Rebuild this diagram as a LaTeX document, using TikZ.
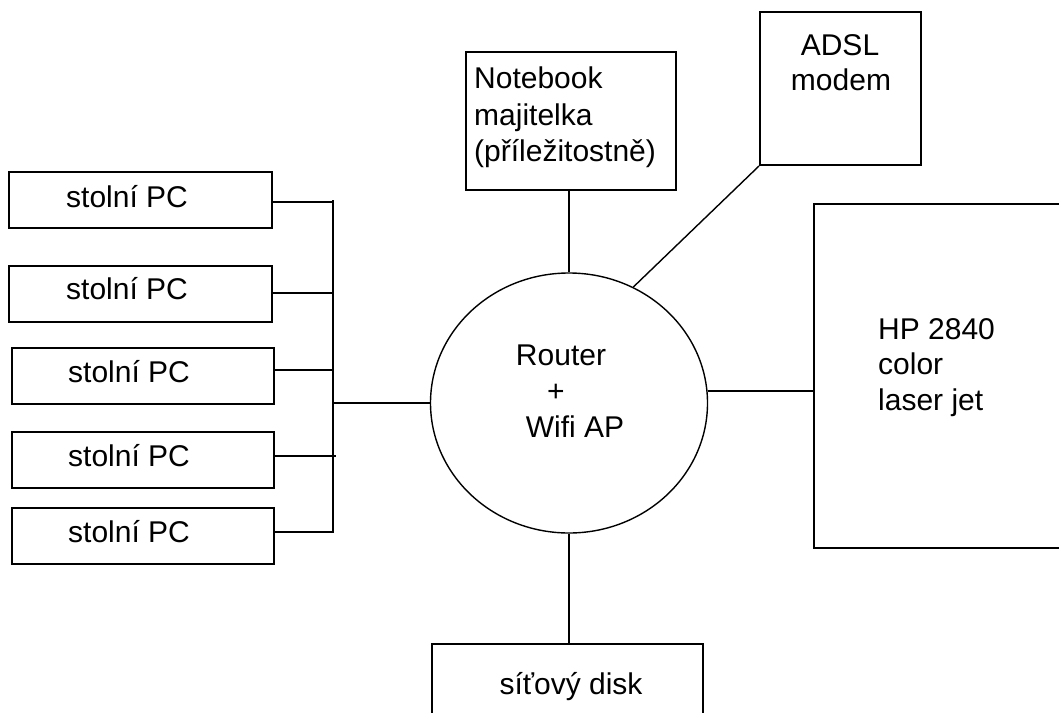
\documentclass[tikz,border=0pt]{standalone}
\usepackage{fontspec}
\setmainfont{Liberation Sans}
\usetikzlibrary{shapes.geometric}
\begin{document}
\begin{tikzpicture}[x=1pt,y=-1pt,
  box/.style={draw, line width=2pt, rectangle, inner sep=0pt},
  hub/.style={draw, line width=1.4pt, ellipse, inner sep=0pt, minimum width=277pt, minimum height=260pt},
  wire/.style={line width=2pt},
  thinwire/.style={line width=1.4pt},
  txt/.style={inner sep=0pt, font=\fontsize{30}{36}\selectfont}]
\clip (0,0) rectangle (1059,712);
% PC boxes
\node[box, minimum width=263pt, minimum height=56pt] (pc1) at (140.5,200) {};
\node[box, minimum width=263pt, minimum height=56pt] (pc2) at (140.5,294) {};
\node[box, minimum width=262pt, minimum height=56pt] (pc3) at (143,376) {};
\node[box, minimum width=262pt, minimum height=56pt] (pc4) at (143,460) {};
\node[box, minimum width=262pt, minimum height=56pt] (pc5) at (143,536) {};
\node[txt, anchor=base west] (t1) at (66,207) {stolní PC};
\node[txt, anchor=base west] (t2) at (66,299) {stolní PC};
\node[txt, anchor=base west] (t3) at (68,382) {stolní PC};
\node[txt, anchor=base west] (t4) at (68,466) {stolní PC};
\node[txt, anchor=base west] (t5) at (68,542) {stolní PC};
% bus
\coordinate (busT) at (333,200);
\coordinate (busB) at (333,533);
\draw[wire] (busT) -- (busB);
\draw[wire] ([yshift=-2pt]pc1.east) -- ([yshift=-2pt]pc1.east -| busT);
\draw[wire] ([yshift=1pt]pc2.east) -- ([yshift=1pt]pc2.east -| busT);
\draw[wire] ([yshift=6pt]pc3.east) -- ([yshift=6pt]pc3.east -| busT);
\draw[wire] ([yshift=4pt,xshift=-2pt]pc4.east) -- ([yshift=4pt,xshift=3pt]pc4.east -| busT);
\draw[wire] ([yshift=4pt]pc5.east) -- ([yshift=4pt]pc5.east -| busT);
% router
\node[hub] (router) at (569,403) {};
\node[txt, anchor=base] (r1) at (561,365) {Router};
\node[txt, anchor=base] (r2) at (556,401) {+};
\node[txt, anchor=base] (r3) at (575,437) {Wifi AP};
\draw[wire] (router.west -| busT) -- (router.west);
% notebook
\node[box, minimum width=210pt, minimum height=138pt] (nb) at (571,121) {};
\node[txt, anchor=base west] (n1) at (474,88) {Notebook};
\node[txt, anchor=base west] (n2) at (474,125) {majitelka};
\node[txt, anchor=base west] (n3) at (474,161) {(příležitostně)};
\draw[wire] (router.north |- nb.south) -- (router.north);
% ADSL
\node[box, minimum width=161pt, minimum height=153pt] (adsl) at (840.5,88.5) {};
\node[txt, anchor=base] (a1) at (840,55) {ADSL};
\node[txt, anchor=base] (a2) at (841,90) {modem};
\draw[thinwire] (adsl.south west) -- (router.61);
% HP
\node[box, minimum width=266pt, minimum height=344pt] (hp) at (947,376) {};
\node[txt, anchor=base west] (h1) at (878,339) {HP 2840};
\node[txt, anchor=base west] (h2) at (878,374) {color};
\node[txt, anchor=base west] (h3) at (878,410) {laser jet};
\draw[wire] (router.5.4) -- (router.5.4 -| hp.west);
% disk
\node[box, minimum width=271pt, minimum height=96pt] (disk) at (567.5,692) {};
\node[txt, anchor=base] (d1) at (571,694) {síťový disk};
\draw[wire] (router.south) -- (router.south |- disk.north);
\end{tikzpicture}
\end{document}
